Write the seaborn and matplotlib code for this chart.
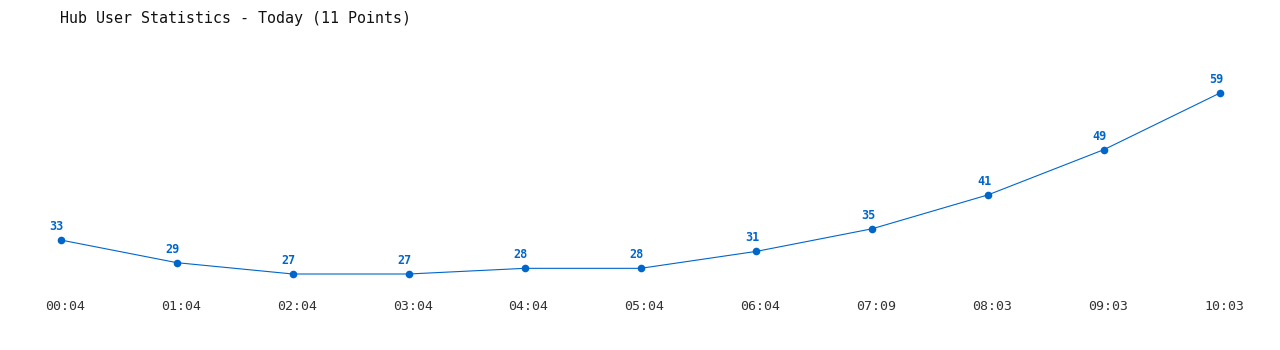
import matplotlib
matplotlib.use("Agg")
import matplotlib.pyplot as plt
import matplotlib.transforms as mtransforms
import seaborn as sns
import pandas as pd

times = ["00:04", "01:04", "02:04", "03:04", "04:04", "05:04", "06:04", "07:09", "08:03", "09:03", "10:03"]
users = [33, 29, 27, 27, 28, 28, 31, 35, 41, 49, 59]

sns.set_theme(style="white")
plt.rcParams['font.family'] = ['DejaVu Sans Mono', 'DejaVu Sans']

df = pd.DataFrame({"idx": range(len(times)), "users": users})

fig = plt.figure(figsize=(12.8, 3.5), dpi=100)
ax = fig.add_axes([61/1280, 1 - 290/350, (1220 - 61)/1280, 250/350])
color = "#0066cc"
sns.lineplot(data=df, x="idx", y="users", ax=ax, color=color, linewidth=0.8,
             marker="o", markersize=5.5, markeredgewidth=0, markeredgecolor=color,
             clip_on=False)
for i, v in zip(df["idx"], df["users"]):
    ax.annotate(str(v), (i, v), xytext=(-3, 5), textcoords="offset points",
                ha="center", va="bottom", fontsize=8.5, fontweight="bold", color=color)

ax.set_xlim(0, len(times) - 1)
ax.set_ylim(24.17, 68.37)
ax.set_xticks(list(range(len(times))))
ax.set_xticklabels(times, fontsize=9.5, color="#333333")
ax.tick_params(axis="x", length=0, pad=7)
offset = mtransforms.ScaledTranslation(4/100, 0, fig.dpi_scale_trans)
for t in ax.get_xticklabels():
    t.set_transform(t.get_transform() + offset)
ax.set_yticks([])
ax.set_xlabel("")
ax.set_ylabel("")
for s in ax.spines.values():
    s.set_visible(False)
ax.patch.set_alpha(0)

fig.text(60/1280, 1 - 18/350, "Hub User Statistics - Today (11 Points)",
         ha="left", va="center", fontsize=10.8, color="#111111")

fig.savefig("out.png", dpi=100)
